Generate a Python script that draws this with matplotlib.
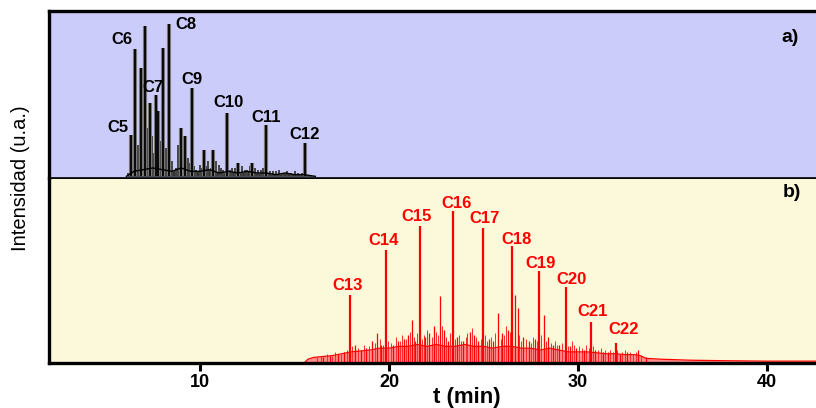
import numpy as np
import matplotlib
matplotlib.use("Agg")
import matplotlib.pyplot as plt

plt.rcParams['font.family'] = ['Liberation Sans', 'DejaVu Sans']

# ---------------- data ----------------
# panel a) main peaks (time min, relative height)
a_main_t = [6.33, 6.56, 6.86, 7.09, 7.35, 7.65, 7.78, 8.06, 8.36, 8.98, 9.20, 9.58, 10.20, 10.70, 11.43, 12.00, 12.75, 13.50, 15.57]
a_main_h = [0.26, 0.77, 0.66, 0.91, 0.45, 0.50, 0.40, 0.78, 0.92, 0.30, 0.25, 0.54, 0.17, 0.17, 0.39, 0.09, 0.09, 0.32, 0.21]
# panel a) minor peaks
a_min_t = [6.20, 6.45, 6.70, 6.95, 7.20, 7.45, 7.55, 7.90, 8.20, 8.50, 8.70, 8.85, 9.10, 9.35, 9.80, 10.00, 10.40, 10.55, 11.00, 11.20, 11.70, 12.20, 12.50, 12.90, 13.20, 13.70, 14.00, 14.40, 14.80, 15.20, 15.80,
           9.45, 9.70, 10.10, 10.30, 10.85, 11.10, 11.60, 11.85, 12.35, 12.65, 13.05, 13.35, 13.85, 14.20, 14.60, 15.00, 15.40]
a_min_h = [0.03, 0.12, 0.20, 0.35, 0.30, 0.25, 0.15, 0.22, 0.18, 0.10, 0.06, 0.20, 0.18, 0.12, 0.05, 0.08, 0.10, 0.06, 0.08, 0.05, 0.06, 0.07, 0.05, 0.06, 0.05, 0.04, 0.04, 0.03, 0.03, 0.03, 0.02,
           0.09, 0.07, 0.06, 0.07, 0.10, 0.06, 0.05, 0.06, 0.05, 0.07, 0.05, 0.06, 0.04, 0.05, 0.04, 0.04, 0.03]
# panel a) baseline trace
a_base_t = [6.1, 6.5, 7.0, 7.5, 8.0, 8.5, 9.0, 9.5, 10.0, 10.5, 11.0, 11.5, 12.0, 12.5, 13.0, 13.5, 14.0, 14.5, 15.0, 15.5, 16.1]
a_base_v = [0.01, 0.04, 0.05, 0.06, 0.05, 0.04, 0.06, 0.04, 0.04, 0.05, 0.03, 0.04, 0.03, 0.04, 0.03, 0.03, 0.02, 0.03, 0.02, 0.02, 0.01]
a_labels = ['C5', 'C6', 'C7', 'C8', 'C9', 'C10', 'C11', 'C12']
a_label_t = [5.66, 5.87, 7.51, 9.26, 9.58, 11.49, 13.50, 15.51]
a_label_y = [0.30, 0.83, 0.54, 0.92, 0.59, 0.45, 0.36, 0.26]

# panel b) n-alkane peaks
b_main_t = [17.92, 19.86, 21.66, 23.37, 24.96, 26.52, 27.95, 29.36, 30.67, 31.99]
b_main_h = [0.37, 0.61, 0.74, 0.82, 0.73, 0.63, 0.50, 0.41, 0.22, 0.11]
# panel b) minor peaks
b_min_t = [16.5, 16.9, 17.3, 17.6, 18.2, 18.5, 18.8, 19.1, 19.38, 19.6, 20.2, 20.5, 20.8, 21.0, 21.2, 21.4, 21.9, 22.1, 22.4, 22.72, 22.9, 23.1, 23.6, 23.9, 24.27, 24.5, 24.7, 25.3, 25.5, 25.77, 26.0, 26.3, 26.65, 26.8, 27.1, 27.4, 27.7, 28.18, 28.4, 28.7, 29.0, 29.6, 29.9, 30.3, 30.9, 31.3, 31.6, 32.2, 32.6, 33.2, 33.6]
b_min_h = [0.03, 0.04, 0.05, 0.06, 0.10, 0.07, 0.08, 0.12, 0.16, 0.10, 0.10, 0.12, 0.13, 0.15, 0.23, 0.12, 0.14, 0.16, 0.20, 0.36, 0.18, 0.12, 0.14, 0.12, 0.17, 0.15, 0.12, 0.13, 0.12, 0.27, 0.16, 0.18, 0.37, 0.30, 0.14, 0.12, 0.13, 0.26, 0.14, 0.10, 0.10, 0.09, 0.08, 0.07, 0.07, 0.06, 0.06, 0.05, 0.06, 0.07, 0.03]
# panel b) small noise spikes
b_hash_t = [16.2, 16.4, 16.7, 17.0, 17.15, 17.45, 17.75, 18.05, 18.35, 18.65, 18.95, 19.25, 19.5, 19.7, 19.95, 20.1, 20.35, 20.6, 20.7, 20.9,
            21.1, 21.3, 21.5, 21.75, 21.85, 22.0, 22.25, 22.5, 22.6, 22.8, 23.0, 23.2, 23.5, 23.7, 23.8, 24.05, 24.15, 24.4, 24.6, 24.85,
            25.1, 25.2, 25.4, 25.6, 25.9, 26.1, 26.2, 26.4, 26.9, 27.0, 27.25, 27.5, 27.6, 27.85, 28.05, 28.3, 28.55, 28.8, 28.9, 29.15,
            29.45, 29.7, 29.8, 30.05, 30.2, 30.45, 30.6, 30.8, 31.05, 31.2, 31.45, 31.7, 31.85, 32.05, 32.35, 32.5, 32.75, 32.9, 33.05, 33.35]
b_hash_h = [0.03, 0.04, 0.05, 0.04, 0.06, 0.05, 0.07, 0.09, 0.08, 0.10, 0.09, 0.11, 0.13, 0.10, 0.12, 0.11, 0.14, 0.12, 0.15, 0.13,
            0.17, 0.14, 0.16, 0.13, 0.15, 0.18, 0.14, 0.17, 0.15, 0.20, 0.14, 0.16, 0.13, 0.15, 0.12, 0.14, 0.16, 0.19, 0.14, 0.13,
            0.15, 0.12, 0.14, 0.16, 0.13, 0.15, 0.20, 0.17, 0.15, 0.12, 0.13, 0.11, 0.14, 0.12, 0.15, 0.12, 0.11, 0.12, 0.10, 0.11,
            0.09, 0.12, 0.10, 0.09, 0.08, 0.10, 0.08, 0.09, 0.07, 0.08, 0.07, 0.07, 0.06, 0.07, 0.06, 0.07, 0.06, 0.05, 0.06, 0.04]
# panel b) baseline hump
b_base_t = [15.5, 15.7, 16.0, 16.5, 17.0, 17.5, 18.0, 18.5, 19.0, 19.5, 20.0, 20.5, 21.0, 21.5, 22.0, 22.5, 23.0, 23.5, 24.0, 24.5, 25.0, 25.5, 26.0, 26.5, 27.0, 27.5, 28.0, 28.5, 29.0, 29.5, 30.0, 30.5, 31.0, 31.5, 32.0, 32.5, 33.0, 33.3, 33.6, 34.5, 36.0, 38.0, 40.0, 42.6]
b_base_v = [0.00, 0.02, 0.03, 0.035, 0.04, 0.05, 0.06, 0.065, 0.07, 0.08, 0.08, 0.09, 0.09, 0.10, 0.09, 0.10, 0.09, 0.09, 0.10, 0.09, 0.09, 0.08, 0.09, 0.09, 0.08, 0.08, 0.07, 0.08, 0.07, 0.06, 0.06, 0.06, 0.055, 0.05, 0.05, 0.045, 0.045, 0.04, 0.025, 0.02, 0.015, 0.012, 0.01, 0.01]
b_labels = ['C13', 'C14', 'C15', 'C16', 'C17', 'C18', 'C19', 'C20', 'C21', 'C22']
b_label_t = [17.78, 19.72, 21.45, 23.55, 25.07, 26.75, 28.02, 29.65, 30.76, 32.43]
b_label_y = [0.42, 0.66, 0.79, 0.86, 0.78, 0.67, 0.54, 0.45, 0.28, 0.18]

x_ticks = [10, 20, 30, 40]

# ---------------- figure ----------------
W, H = 816, 408
fig = plt.figure(figsize=(W / 100, H / 100), dpi=100)
L = 49 / W
axb = fig.add_axes([L, (H - 363) / H, 1.0 - L, 185 / H])
axa = fig.add_axes([L, (H - 178) / H, 1.0 - L, 167 / H], sharex=axb)

axa.set_facecolor('#ccccfa')
axb.set_facecolor('#fbf9da')

xmin, xmax = 2.0, 42.6
axb.set_xlim(xmin, xmax)
axa.set_ylim(0, 1)
axb.set_ylim(0, 1)

# panel a
axa.fill_between(a_base_t, 0.01, a_base_v, color='#333333', lw=0)
axa.vlines(a_min_t, 0.01, a_min_h, color='#444444', lw=1.4)
axa.vlines(a_main_t, 0.01, a_main_h, color='#777777', lw=3.0)
axa.vlines(a_main_t, 0.01, a_main_h, color='black', lw=1.3)
axa.plot(a_base_t, a_base_v, color='black', lw=1.0)
for lab, t, y in zip(a_labels, a_label_t, a_label_y):
    axa.text(t, y, lab, ha='center', va='center', fontsize=12, fontweight='bold', color='black')
axa.text(0.977, 0.84, 'a)', transform=axa.transAxes, ha='right', va='center', fontsize=14, fontweight='bold')

# panel b
axb.fill_between(b_base_t, 0.005, b_base_v, color='#ff8c8c', lw=0)
axb.vlines(b_hash_t, 0.005, b_hash_h, color='#ff2a2a', lw=0.7)
axb.vlines(b_min_t, 0.005, b_min_h, color='red', lw=0.9)
axb.vlines(b_main_t, 0.005, b_main_h, color='red', lw=1.6)
axb.plot(b_base_t, b_base_v, color='red', lw=0.9)
for lab, t, y in zip(b_labels, b_label_t, b_label_y):
    axb.text(t, y, lab, ha='center', va='center', fontsize=12, fontweight='bold', color='red')
axb.text(0.981, 0.92, 'b)', transform=axb.transAxes, ha='right', va='center', fontsize=14, fontweight='bold')

# spines / ticks
for ax in (axa, axb):
    ax.set_yticks([])
    for s in ax.spines.values():
        s.set_linewidth(2.4)
        s.set_color('black')
    ax.spines['right'].set_visible(False)
axa.spines['bottom'].set_linewidth(1.2)
axb.spines['top'].set_linewidth(1.2)
axa.tick_params(axis='x', which='both', bottom=False, labelbottom=False)

axb.set_xticks(x_ticks)
axb.set_xticklabels([str(v) for v in x_ticks])
axb.tick_params(axis='x', direction='out', length=6, width=2.2, labelsize=13, pad=2)
for lbl in axb.get_xticklabels():
    lbl.set_fontweight('bold')

fig.text(467 / W, 1 - 398 / H, 't (min)', ha='center', va='center', fontsize=16, fontweight='bold')
fig.text(21 / W, 1 - 178 / H, 'Intensidad (u.a.)', rotation=90, ha='center', va='center', fontsize=14.5)

fig.savefig('out.png', dpi=100)
